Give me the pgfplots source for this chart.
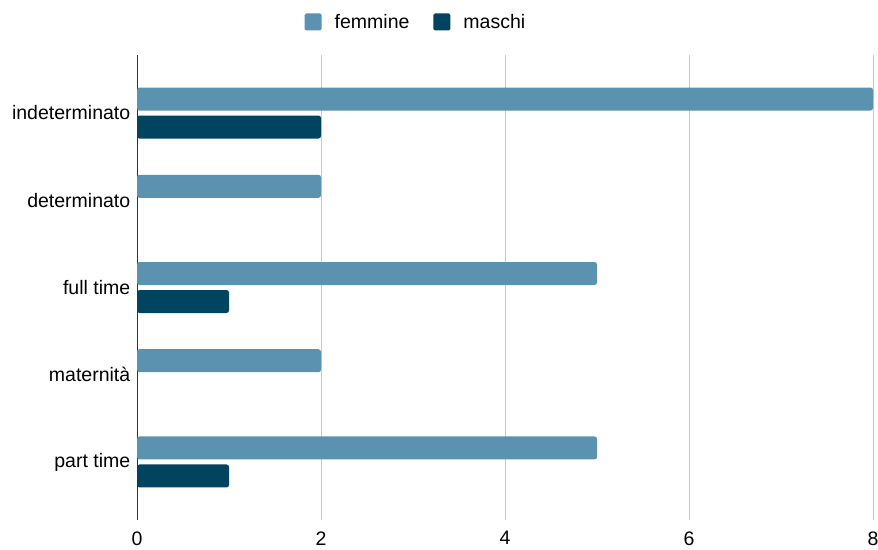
\documentclass[border=0pt]{standalone}
\usepackage{fontspec}
\setmainfont{Liberation Sans}
\usepackage{pgfplots}
\pgfplotsset{compat=1.18}
\definecolor{fem}{HTML}{5A92AF}
\definecolor{mas}{HTML}{00445F}
\definecolor{gridc}{HTML}{C8C8C8}
\newcommand{\lblfont}{\fontsize{19.5bp}{23bp}\selectfont}
\begin{document}
\begin{tikzpicture}
\useasboundingbox (0,0) rectangle (878bp,550bp);
\begin{axis}[at={(137bp,30bp)}, anchor=south west, scale only axis,
  width=736bp, height=465bp,
  xmin=0, xmax=8, ymin=-0.665, ymax=4.665, y dir=reverse,
  xbar, bar width=23bp,
  xtick={0,2,4,6,8}, ytick={0,1,2,3,4},
  yticklabels={indeterminato,determinato,full time,maternità,part time},
  xmajorgrids, grid style={color=gridc, line width=1bp},
  axis x line*=bottom, x axis line style={draw=none},
  axis y line*=left, y axis line style={color=black!80, line width=0.9bp},
  tick style={draw=none},
  xticklabel style={yshift=-8bp, font=\lblfont},
  yticklabel style={xshift=1bp, font=\lblfont},
  /pgf/number format/assume math mode=true,
  legend columns=2,
  legend style={draw=none, at={(0.379,1.071)}, anchor=center,
    font=\lblfont,
    /tikz/every odd column/.append style={column sep=11bp},
    /tikz/every even column/.append style={column sep=22bp}},
  legend image code/.code={\fill[#1, rounded corners=1.5bp] (0bp,-8.5bp) rectangle (17bp,8.5bp);},
]
\addplot[fill=fem, draw=none, bar shift=14bp, rounded corners=2.5bp] coordinates {(8,0) (2,1) (5,2) (2,3) (5,4)};
\addplot[fill=mas, draw=none, bar shift=-14bp, rounded corners=2.5bp] coordinates {(2,0) (1,2) (1,4)};
\legend{femmine, maschi}
\end{axis}
\end{tikzpicture}
\end{document}
